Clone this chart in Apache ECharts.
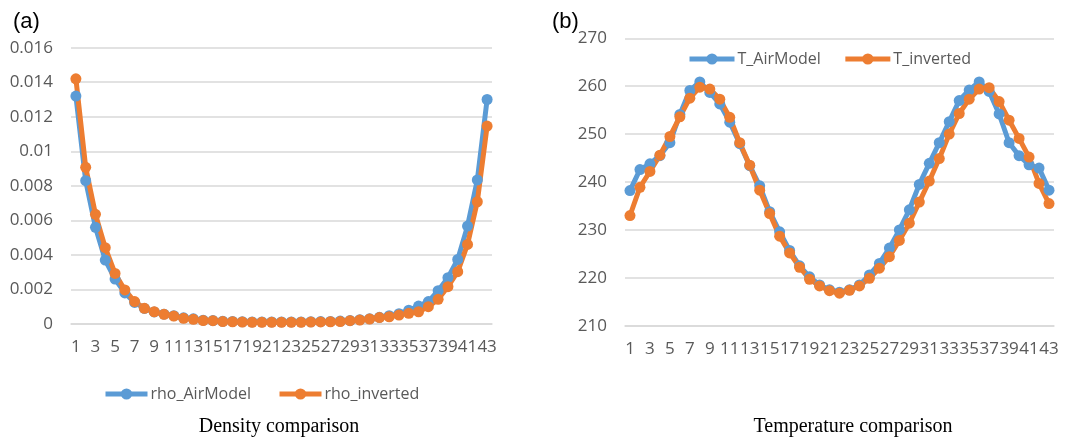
<!DOCTYPE html>
<html>
<head>
<meta charset="utf-8">
<script src="https://cdn.jsdelivr.net/npm/echarts@6/dist/echarts.min.js"></script>
<style>
  html, body { margin: 0; padding: 0; background: #fff; }
  #chart { width: 1079px; height: 438px; }
</style>
</head>
<body>
<div id="chart"></div>
<script>
// index 1..43
const categories = Array.from({ length: 43 }, (_, i) => String(i + 1));

const rhoAirModel = [
  0.0132, 0.0083, 0.0056, 0.0037, 0.0026, 0.0018, 0.00125, 0.0009, 0.0007, 0.00057,
  0.00048, 0.00036, 0.0003, 0.00022, 0.0002, 0.00016, 0.00015, 0.00013, 0.00012, 0.00012,
  0.00012, 0.00012, 0.00012, 0.00012, 0.00013, 0.00014, 0.00015, 0.00017, 0.0002, 0.00025,
  0.0003, 0.00039, 0.00048, 0.0006, 0.0008, 0.00104, 0.0013, 0.00193, 0.00268, 0.00374,
  0.00567, 0.00834, 0.0130
];
const rhoInverted = [
  0.0142, 0.00907, 0.00635, 0.00442, 0.00293, 0.00197, 0.0013, 0.00091, 0.00071, 0.00056,
  0.00046, 0.00033, 0.00027, 0.0002, 0.00019, 0.00014, 0.00013, 0.00011, 0.0001, 0.0001,
  0.0001, 0.0001, 0.0001, 0.0001, 0.00011, 0.00012, 0.00013, 0.00014, 0.00019, 0.00023,
  0.00029, 0.00037, 0.00042, 0.00052, 0.00062, 0.00071, 0.001, 0.00143, 0.00216, 0.00303,
  0.00461, 0.00708, 0.01146
];

const tAirModel = [
  238.2, 242.6, 243.8, 245.5, 248.2, 254.1, 259.1, 260.9, 258.7, 256.3,
  252.5, 248.0, 243.4, 239.2, 233.8, 229.6, 225.7, 222.5, 220.2, 218.5,
  217.5, 217.0, 217.5, 218.5, 220.6, 223.0, 226.2, 230.0, 234.2, 239.5,
  243.9, 248.2, 252.6, 257.0, 259.2, 260.9, 258.9, 254.2, 248.2, 245.5,
  243.6, 242.9, 238.3
];
const tInverted = [
  233.0, 238.9, 242.2, 245.6, 249.5, 253.6, 257.5, 259.8, 259.4, 257.3,
  253.5, 248.2, 243.5, 238.3, 233.4, 228.7, 225.2, 222.2, 219.7, 218.3,
  217.3, 216.8, 217.4, 218.3, 219.9, 222.0, 224.4, 227.8, 231.4, 235.8,
  240.2, 244.9, 250.0, 254.3, 257.3, 259.4, 259.7, 256.8, 252.9, 249.1,
  245.2, 239.7, 235.5
];

const rhoTicks = { min: 0, max: 0.016, interval: 0.002 };
const tTicks = { min: 210, max: 270, interval: 10 };

const BLUE = '#5B9BD5';
const ORANGE = '#ED7D31';
const LABEL_FONT = 'Open Sans';
const labelStyle = { color: '#595959', fontSize: 17, fontFamily: LABEL_FONT };

const chart = echarts.init(document.getElementById('chart'));

const makeX = (gridIndex) => ({
  type: 'category',
  gridIndex,
  data: categories,
  boundaryGap: true,
  axisLine: { show: true, lineStyle: { color: '#D9D9D9', width: 1.5 } },
  axisTick: { show: false },
  axisLabel: Object.assign({ interval: 1, margin: 15 }, labelStyle)
});

const makeY = (gridIndex, ticks) => ({
  type: 'value',
  gridIndex,
  min: ticks.min,
  max: ticks.max,
  interval: ticks.interval,
  axisLine: { show: false },
  axisTick: { show: false },
  axisLabel: Object.assign({ margin: 18 }, labelStyle),
  splitLine: { lineStyle: { color: '#D9D9D9', width: 1.5 } }
});

const makeSeries = (name, data, color, idx) => ({
  name,
  type: 'line',
  xAxisIndex: idx,
  yAxisIndex: idx,
  data,
  symbol: 'circle',
  symbolSize: 11,
  showAllSymbol: true,
  lineStyle: { width: 5, color },
  itemStyle: { color },
  animation: false
});

const legendText = { color: '#595959', fontSize: 16, fontFamily: LABEL_FONT, padding: [0, 0, 0, -2] };

chart.setOption({
  animation: false,
  title: [
    { text: '(a)', left: 8, top: 6, textStyle: { fontSize: 22, fontWeight: 'normal', color: '#000', fontFamily: 'Liberation Sans' } },
    { text: '(b)', left: 547, top: 6, textStyle: { fontSize: 22, fontWeight: 'normal', color: '#000', fontFamily: 'Liberation Sans' } },
    { text: 'Density comparison', left: 274, top: 412, textAlign: 'center', textStyle: { fontSize: 20, fontWeight: 'normal', color: '#000', fontFamily: 'Liberation Serif' } },
    { text: 'Temperature comparison', left: 848, top: 412, textAlign: 'center', textStyle: { fontSize: 20, fontWeight: 'normal', color: '#000', fontFamily: 'Liberation Serif' } }
  ],
  legend: [
    {
      data: ['rho_AirModel', 'rho_inverted'],
      left: 103, top: 386, padding: 0,
      itemWidth: 42, itemHeight: 14, itemGap: 26,
      lineStyle: { width: 5 },
      textStyle: legendText
    },
    {
      data: ['T_AirModel', 'T_inverted'],
      left: 687, top: 51, padding: 0,
      itemWidth: 45, itemHeight: 14, itemGap: 22,
      lineStyle: { width: 5 },
      textStyle: legendText
    }
  ],
  grid: [
    { left: 71, top: 47.7, width: 421, height: 276.3 },
    { left: 625, top: 38.3, width: 429, height: 287.4 }
  ],
  xAxis: [makeX(0), makeX(1)],
  yAxis: [makeY(0, rhoTicks), makeY(1, tTicks)],
  series: [
    makeSeries('rho_AirModel', rhoAirModel, BLUE, 0),
    makeSeries('rho_inverted', rhoInverted, ORANGE, 0),
    makeSeries('T_AirModel', tAirModel, BLUE, 1),
    makeSeries('T_inverted', tInverted, ORANGE, 1)
  ]
});

window.addEventListener('resize', () => chart.resize());
</script>
</body>
</html>
